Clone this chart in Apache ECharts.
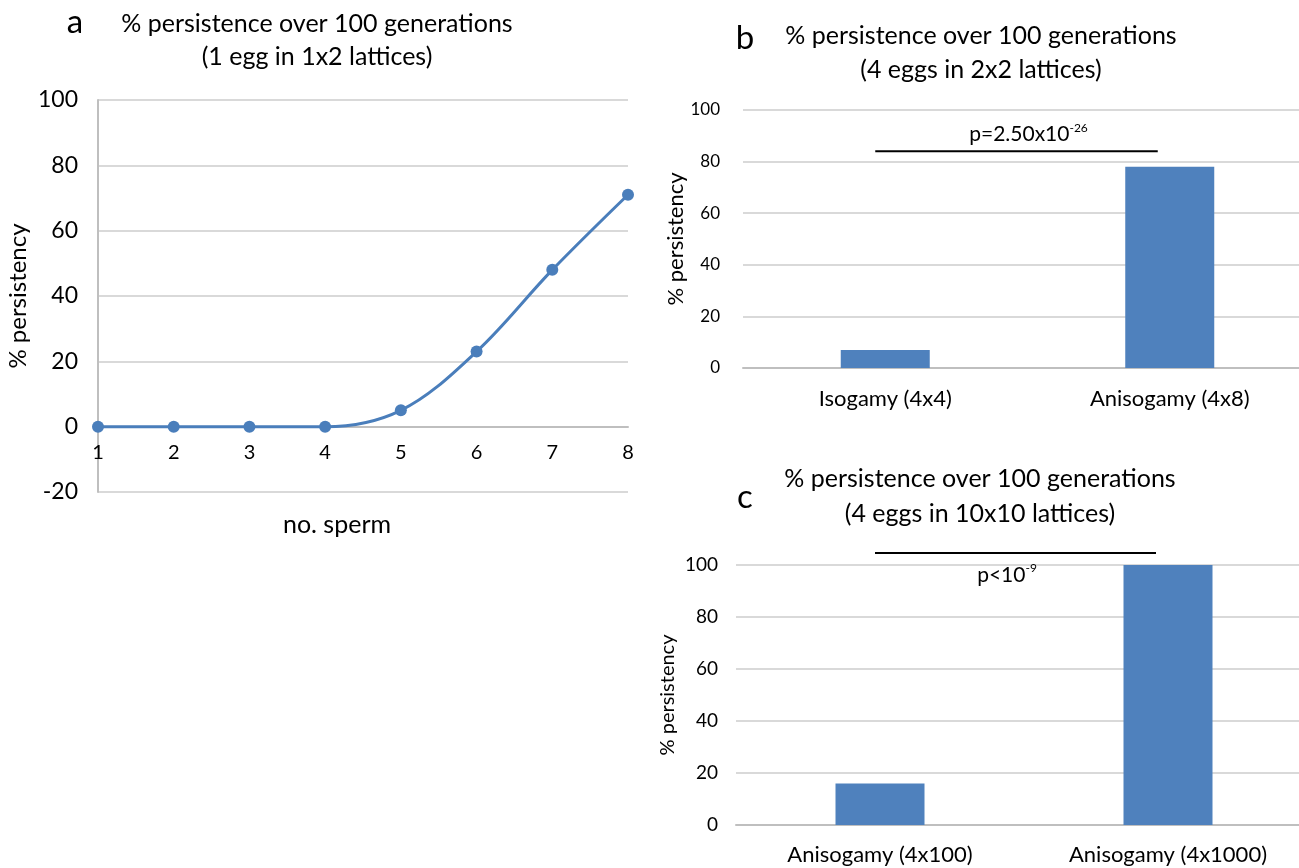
<!DOCTYPE html>
<html><head><meta charset="utf-8">
<script src="https://cdn.jsdelivr.net/npm/echarts@6/dist/echarts.min.js"></script>
<style>html,body{margin:0;padding:0;background:#fff;overflow:hidden}#c{width:1320px;height:868px}</style>
</head><body><div id="c"></div>
<script>
// ---- data ----
const spermCounts = ['1','2','3','4','5','6','7','8'];
const persistenceA = [0,0,0,0,5,23,48,71];
const categoriesB = ['Isogamy (4x4)','Anisogamy (4x8)'];
const persistenceB = [7,78];
const categoriesC = ['Anisogamy (4x100)','Anisogamy (4x1000)'];
const persistenceC = [16,100];
const pTextB = ['p=2.50x10','-26'];
const pTextC = ['p<10','-9'];

const FONT = 'Lato, "Liberation Sans", sans-serif';
const BLUE = '#4f81bd';
const GRID = '#d9d9d9';
const AXIS = '#bfbfbf';

const chart = echarts.init(document.getElementById('c'), null, {renderer:'canvas'});

function txt(x, y, s, size, extra) {
  return Object.assign({type:'text', x:x, y:y, style:{text:s, font: size+'px '+FONT, fill:'#000', align:'center', verticalAlign:'middle'}}, extra||{});
}

const A_HEIGHT = 392;
const option = {
  animation:false,
  backgroundColor:'#fff',
  textStyle:{fontFamily:FONT},
  grid:[
    {left:98, top:100, width:530, height:A_HEIGHT},
    {left:743, top:110, width:569, height:258},
    {left:736, top:565, width:576, height:260}
  ],
  xAxis:[
    {gridIndex:0, type:'category', data:spermCounts, boundaryGap:false,
     position:'bottom', offset:-A_HEIGHT*20/120,
     axisLine:{onZero:false, lineStyle:{color:AXIS, width:2}}, axisTick:{show:false},
     axisLabel:{color:'#000', fontSize:20, margin:16, fontFamily:FONT}, splitLine:{show:false}},
    {gridIndex:1, type:'category', data:categoriesB,
     axisLine:{lineStyle:{color:AXIS, width:2}}, axisTick:{show:false},
     axisLabel:{color:'#000', fontSize:22, margin:20, fontFamily:FONT}},
    {gridIndex:2, type:'category', data:categoriesC,
     axisLine:{lineStyle:{color:AXIS, width:2}}, axisTick:{show:false},
     axisLabel:{color:'#000', fontSize:22, margin:19, fontFamily:FONT}}
  ],
  yAxis:[
    {gridIndex:0, type:'value', min:-20, max:100, interval:20,
     axisLine:{show:true, lineStyle:{color:AXIS, width:2}}, axisTick:{show:false},
     axisLabel:{color:'#000', fontSize:23, margin:20, fontFamily:FONT},
     splitLine:{lineStyle:{color:GRID, width:2}},
     name:'% persistency', nameLocation:'middle', nameGap:68,
     nameTextStyle:{color:'#000', fontSize:24, fontFamily:FONT}},
    {gridIndex:1, type:'value', min:0, max:100, interval:20,
     axisLine:{show:false}, axisTick:{show:false},
     axisLabel:{color:'#000', fontSize:17, margin:23, fontFamily:FONT},
     splitLine:{lineStyle:{color:GRID, width:2}},
     name:'% persistency', nameLocation:'middle', nameGap:56,
     nameTextStyle:{color:'#000', fontSize:22, fontFamily:FONT}},
    {gridIndex:2, type:'value', min:0, max:100, interval:20,
     axisLine:{show:false}, axisTick:{show:false},
     axisLabel:{color:'#000', fontSize:19, margin:18, fontFamily:FONT},
     splitLine:{lineStyle:{color:GRID, width:2}},
     name:'% persistency', nameLocation:'middle', nameGap:58,
     nameTextStyle:{color:'#000', fontSize:20, fontFamily:FONT}}
  ],
  series:[
    {type:'line', xAxisIndex:0, yAxisIndex:0, data:persistenceA, smooth:0.35,
     symbol:'circle', symbolSize:12, lineStyle:{color:'#4a7ebb', width:3},
     itemStyle:{color:'#4a7ebb'}},
    {type:'bar', xAxisIndex:1, yAxisIndex:1, data:persistenceB, barWidth:89, itemStyle:{color:BLUE}},
    {type:'bar', xAxisIndex:2, yAxisIndex:2, data:persistenceC, barWidth:89, itemStyle:{color:BLUE}}
  ]
};
chart.setOption(option);

// annotations positioned through the chart's scales
const b0 = chart.convertToPixel({xAxisIndex:1, yAxisIndex:1}, [0, 84]);
const b1 = chart.convertToPixel({xAxisIndex:1, yAxisIndex:1}, [1, 84]);
const c0 = chart.convertToPixel({xAxisIndex:2, yAxisIndex:2}, [0, 100]);
const c1 = chart.convertToPixel({xAxisIndex:2, yAxisIndex:2}, [1, 100]);

const rich = (size, sup) => ({
  n:{fontSize:size, fontFamily:FONT, color:'#000', lineHeight:size+4},
  s:{fontSize:sup, fontFamily:FONT, color:'#000', verticalAlign:'top', lineHeight:sup}
});

chart.setOption({graphic:[
  txt(75, 22, 'a', 33),
  txt(317, 24, '% persistence over 100 generations', 25),
  txt(317, 57, '(1 egg in 1x2 lattices)', 25),
  txt(337, 525, 'no. sperm', 25),
  txt(745, 38, 'b', 33),
  txt(981, 36, '% persistence over 100 generations', 25),
  txt(981, 70, '(4 eggs in 2x2 lattices)', 25),
  txt(745, 497, 'c', 33),
  txt(980, 479, '% persistence over 100 generations', 25),
  txt(980, 514, '(4 eggs in 10x10 lattices)', 25),
  {type:'line', shape:{x1:b0[0]-10, y1:b0[1], x2:b1[0]-12, y2:b1[1]}, style:{stroke:'#000', lineWidth:2}},
  {type:'text', x:(b0[0]+b1[0])/2+1, y:b0[1]-17, style:{text:'{n|'+pTextB[0]+'}{s|'+pTextB[1]+'}', rich:rich(21,12), align:'center', verticalAlign:'middle'}},
  {type:'line', shape:{x1:c0[0]-5, y1:c0[1]-12, x2:c1[0]-12, y2:c1[1]-12}, style:{stroke:'#000', lineWidth:2}},
  {type:'text', x:(c0[0]+c1[0])/2-17, y:c0[1]+10, style:{text:'{n|'+pTextC[0]+'}{s|'+pTextC[1]+'}', rich:rich(21,12), align:'center', verticalAlign:'middle'}}
]});
</script>
</body></html>
